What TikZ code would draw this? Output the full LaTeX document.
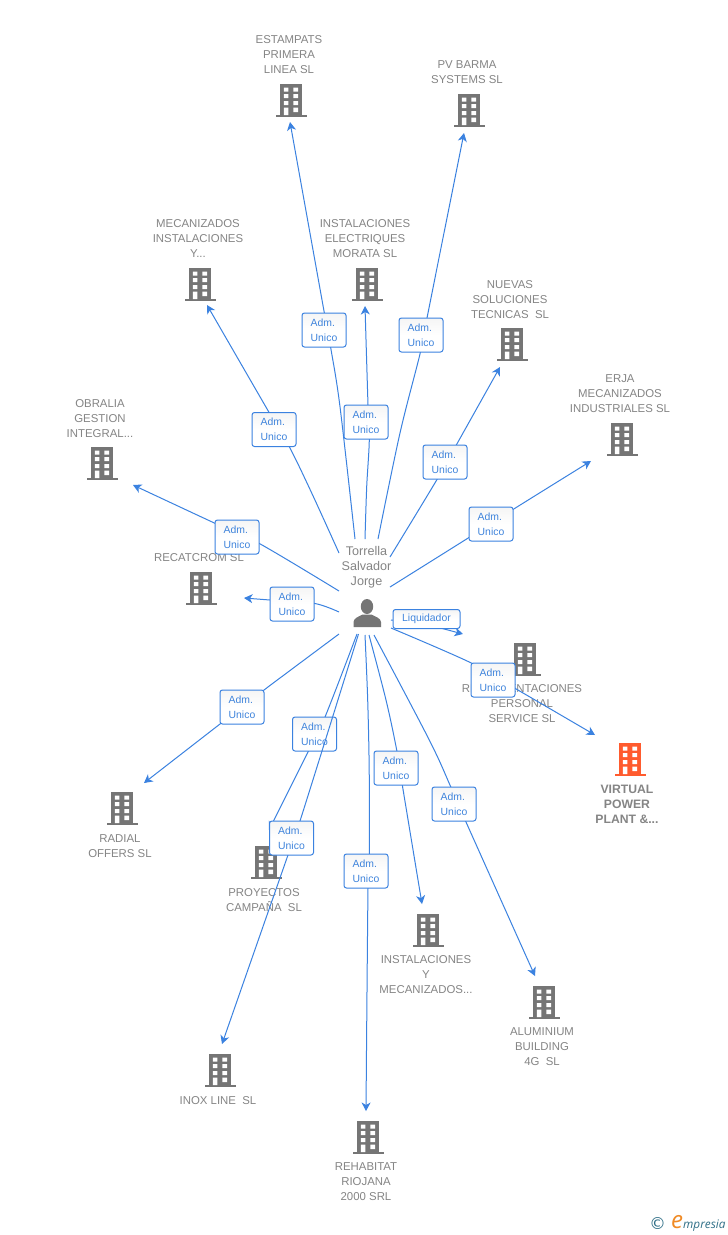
\documentclass[tikz,border=0pt]{standalone}
\usepackage{fontspec}
\setmainfont{Liberation Sans}
\newfontfamily\logofont{Open Sans}
\newfontfamily\symfont{DejaVu Sans}
\usetikzlibrary{arrows.meta,shadings}
\definecolor{wirec}{HTML}{3B82E0}
\definecolor{labc}{HTML}{3F84DC}
\definecolor{txtc}{HTML}{858585}
\definecolor{iconc}{HTML}{757575}
\definecolor{hotc}{HTML}{FF5B2E}
\definecolor{logoc}{HTML}{2F6F87}
\definecolor{logoo}{HTML}{F08A24}
\pgfdeclarelayer{front}
\pgfdeclarelayer{over}
\pgfsetlayers{main,front,over}
\tikzset{
  wire/.style={draw=wirec,line width=1pt,-{Stealth[length=8.5pt,width=9pt,inset=2.5pt]}},
  lab/.style={draw=wirec,line width=1pt,rounded corners=2.5pt,top color=black!4,bottom color=white,middle color=white,
    text=labc,font=\fontsize{10.4}{15}\selectfont,align=left,minimum width=44pt,minimum height=34pt,inner sep=0pt},
  co/.style={text=txtc,font=\fontsize{11.4}{15}\selectfont,align=center,inner sep=0pt},
  hot/.style={text=txtc,font=\bfseries\fontsize{12.2}{15}\selectfont,align=center,inner sep=0pt},
  pers/.style={text=txtc,font=\fontsize{12.6}{15}\selectfont,align=center,inner sep=0pt},
  box/.style={minimum width=31pt,minimum height=33pt,inner sep=0pt},
  bld/.pic={
    \fill[pic actions] (-11,-16.5) rectangle (11,15);
    \fill[pic actions] (-15.5,14.5) rectangle (15.5,17);
    \fill[white] (-7.2,-12.5) rectangle (-2.7,-8.5) (2.3,-12.5) rectangle (7,-8.5)
      (-7.2,-5.8) rectangle (-2.7,-1.8) (2.3,-5.8) rectangle (7,-1.8)
      (-7.2,1) rectangle (-2.7,5) (2.3,1) rectangle (7,5)
      (-7.2,7.5) rectangle (-2.7,15) (2.3,7.5) rectangle (7,12);
  }
}
\begin{document}
\begin{tikzpicture}[x=1pt,y=-1pt]
\useasboundingbox (0,0) rectangle (728,1235);
\fill[white] (0,0) rectangle (728,1235);

% companies
\node[box] (b1) at (291,100) {};  \pic[fill=iconc] at (b1) {bld};
\node[co] (n1) at (289,55) {ESTAMPATS\\PRIMERA\\LINEA SL};
\node[box] (b2) at (469,110) {};  \pic[fill=iconc] at (b2) {bld};
\node[co] (n2) at (467,72.5) {PV BARMA\\SYSTEMS SL};
\node[box] (b3) at (200,284) {};  \pic[fill=iconc] at (b3) {bld};
\node[co] (n3) at (198,239) {MECANIZADOS\\INSTALACIONES\\Y...};
\node[box] (b4) at (367,284) {};  \pic[fill=iconc] at (b4) {bld};
\node[co] (n4) at (365,239) {INSTALACIONES\\ELECTRIQUES\\MORATA SL};
\node[box] (b5) at (512,344) {};  \pic[fill=iconc] at (b5) {bld};
\node[co] (n5) at (510,300) {NUEVAS\\SOLUCIONES\\TECNICAS\ \ SL};
\node[box] (b6) at (622,439) {};  \pic[fill=iconc] at (b6) {bld};
\node[co] (n6) at (620,394) {ERJA\\MECANIZADOS\\INDUSTRIALES SL};
\node[box] (b7) at (102,463) {};  \pic[fill=iconc] at (b7) {bld};
\node[co] (n7) at (100,419) {OBRALIA\\GESTION\\INTEGRAL...};
\node[box] (b8) at (201,588) {};  \pic[fill=iconc] at (b8) {bld};
\node[co] (n8) at (199,558) {RECATCROM SL};
\node[box] (b9) at (525,659) {};  \pic[fill=iconc] at (b9) {bld};
\node[co] (n9) at (522,704) {REPRESENTACIONES\\PERSONAL\\SERVICE SL};
\node[box] (b10) at (630,759) {}; \pic[fill=hotc] at (b10) {bld};
\node[hot] (n10) at (627,804) {VIRTUAL\\POWER\\PLANT \&...};
\node[box] (b11) at (122,808) {}; \pic[fill=iconc] at (b11) {bld};
\node[co] (n11) at (120,846.5) {RADIAL\\OFFERS SL};
\node[box] (b12) at (266,862) {}; \pic[fill=iconc] at (b12) {bld};
\node[co] (n12) at (264,900.5) {PROYECTOS\\CAMPAÑA\ \ SL};
\node[box] (b13) at (428,930) {}; \pic[fill=iconc] at (b13) {bld};
\node[co] (n13) at (426,975) {INSTALACIONES\\Y\\MECANIZADOS...};
\node[box] (b14) at (544,1002) {}; \pic[fill=iconc] at (b14) {bld};
\node[co] (n14) at (542,1047) {ALUMINIUM\\BUILDING\\4G\ \ SL};
\node[box] (b15) at (220,1070) {}; \pic[fill=iconc] at (b15) {bld};
\node[co] (n15) at (218,1101) {INOX LINE\ \ SL};
\node[box] (b16) at (368,1137) {}; \pic[fill=iconc] at (b16) {bld};
\node[co] (n16) at (366,1182) {REHABITAT\\RIOJANA\\2000 SRL};

% person
\node[pers] (pname) at (366.5,567) {Torrella\\Salvador\\Jorge};
\node[box,minimum width=28pt,minimum height=30pt] (p) at (367,613) {};
\fill[iconc] (367,606.5) ellipse (6.2 and 7.5);
\fill[iconc] (353.5,627) -- (353.5,622) .. controls (354,618) and (358,617) .. (362.5,614.5)
  -- (371.5,614.5) .. controls (376,617) and (380.5,618) .. (381,622) -- (381,627) -- cycle;

% relation labels
\begin{pgfonlayer}{front}
\node[lab] (l1) at (324,330) {Adm.\\Unico};
\node[lab] (l2) at (421,335) {Adm.\\Unico};
\node[lab] (l3) at (274,429.5) {Adm.\\Unico};
\node[lab] (l4) at (366,422) {Adm.\\Unico};
\node[lab] (l5) at (445,462) {Adm.\\Unico};
\node[lab] (l6) at (491,524) {Adm.\\Unico};
\node[lab] (l7) at (237,537) {Adm.\\Unico};
\node[lab] (l8) at (292,604) {Adm.\\Unico};
\node[lab,minimum width=67pt,minimum height=19pt] (l9) at (426.5,619) {Liquidador};
\node[lab] (l10) at (493,680) {Adm.\\Unico};
\node[lab] (l11) at (242,707) {Adm.\\Unico};
\node[lab] (l12) at (314.5,734) {Adm.\\Unico};
\node[lab] (l14) at (396,768) {Adm.\\Unico};
\node[lab] (l15) at (454,804) {Adm.\\Unico};
\node[lab] (l16) at (366,871) {Adm.\\Unico};
\end{pgfonlayer}
\begin{pgfonlayer}{over}
\node[lab] (l13) at (291.5,838) {Adm.\\Unico};
\end{pgfonlayer}

% free ends of the connectors, bends, and where they leave their labels
\coordinate (s1) at (355,539);  \coordinate (m1) at (340,406.7); \coordinate (a1) at (330.7,347.7); \coordinate (b1) at (324.3,312.7); \coordinate (t1) at (290,122);
\coordinate (s2) at (378,539);  \coordinate (m2) at (400,433);   \coordinate (a2) at (420.3,352.7); \coordinate (b2) at (427,318);     \coordinate (t2) at (464,133);
\coordinate (s3) at (339,553);  \coordinate (m3) at (311.7,493); \coordinate (a3) at (289.3,446.7); \coordinate (b3) at (269,412.3);   \coordinate (t3) at (207,305);
\coordinate (s4) at (365,539);  \coordinate (m4) at (366.7,486.7); \coordinate (a4) at (369.3,440); \coordinate (b4) at (368,405);     \coordinate (t4) at (365,306);
\coordinate (s5) at (390,557);  \coordinate (a5) at (437.3,479);   \coordinate (b5) at (456.7,444.3); \coordinate (t5) at (500,367);
\coordinate (s6) at (390,587);  \coordinate (a6) at (469.3,537.3); \coordinate (b6) at (513.3,509.3); \coordinate (t6) at (591,461);
\coordinate (s7) at (339,591);  \coordinate (a7) at (259,543.3);   \coordinate (b7) at (215,523.3);   \coordinate (t7) at (133,485);
\coordinate (s8) at (339,612);  \coordinate (a8) at (314,603.3);   \coordinate (b8) at (270,600);     \coordinate (t8) at (244,598);
\coordinate (s9) at (391,620);  \coordinate (a9) at (420,622);     \coordinate (b9) at (441.7,628.3); \coordinate (t9) at (463,634);
\coordinate (s10) at (391,628); \coordinate (a10) at (470.7,662.7); \coordinate (b10) at (515,688.3); \coordinate (t10) at (595,735);
\coordinate (s11) at (339,634); \coordinate (a11) at (264,690);    \coordinate (b11) at (220,724);    \coordinate (t11) at (144,783);
\coordinate (s12) at (357,634); \coordinate (a12) at (325,717);    \coordinate (b12) at (308,752);    \coordinate (t12) at (269,830);
\coordinate (s13) at (358.5,634); \coordinate (a13) at (300,821);  \coordinate (b13) at (288,855);    \coordinate (t13) at (222,1044);
\coordinate (s14) at (369,635); \coordinate (m14) at (386,700);    \coordinate (a14) at (396.7,750);  \coordinate (b14) at (402.3,785);  \coordinate (t14) at (422,904);
\coordinate (s15) at (374,635); \coordinate (m15) at (429.3,740);  \coordinate (a15) at (450.7,786.7); \coordinate (b15) at (465.7,821.3); \coordinate (t15) at (535,976);
\coordinate (s16) at (365,635); \coordinate (m16) at (367.7,700);  \coordinate (n16b) at (369.2,770); \coordinate (a16) at (369.4,854);    \coordinate (b16) at (368,888);    \coordinate (t16) at (366,1111);

% connectors
\draw[wire] plot[smooth,tension=.55] coordinates {(s1) (m1) (a1) (b1) (t1)};
\draw[wire] plot[smooth,tension=.55] coordinates {(s2) (m2) (a2) (b2) (t2)};
\draw[wire] plot[smooth,tension=.55] coordinates {(s3) (m3) (a3) (b3) (t3)};
\draw[wire] plot[smooth,tension=.55] coordinates {(s4) (m4) (a4) (b4) (t4)};
\draw[wire] plot[smooth,tension=.55] coordinates {(s5) (a5) (b5) (t5)};
\draw[wire] plot[smooth,tension=.55] coordinates {(s6) (a6) (b6) (t6)};
\draw[wire] plot[smooth,tension=.55] coordinates {(s7) (a7) (b7) (t7)};
\draw[wire] plot[smooth,tension=.55] coordinates {(s8) (a8) (b8) (t8)};
\draw[wire] plot[smooth,tension=.55] coordinates {(s9) (a9) (b9) (t9)};
\draw[wire] plot[smooth,tension=.55] coordinates {(s10) (a10) (b10) (t10)};
\draw[wire] plot[smooth,tension=.55] coordinates {(s11) (a11) (b11) (t11)};
\draw[wire] plot[smooth,tension=.55] coordinates {(s12) (a12) (b12) (t12)};
\draw[wire] plot[smooth,tension=.55] coordinates {(s14) (m14) (a14) (b14) (t14)};
\draw[wire] plot[smooth,tension=.55] coordinates {(s15) (m15) (a15) (b15) (t15)};
\draw[wire] plot[smooth,tension=.55] coordinates {(s16) (m16) (n16b) (a16) (b16) (t16)};
\begin{pgfonlayer}{front}
\draw[wire] plot[smooth,tension=.55] coordinates {(s13) (a13) (b13) (t13)};
\end{pgfonlayer}

% logo
\node[inner sep=0pt,text=logoc,font=\symfont\fontsize{16.5}{16}\selectfont] (lg1) at (657.5,1224) {©};
\node[inner sep=0pt,text=logoo,font=\logofont\itshape\fontsize{24}{24}\selectfont] (lg2) at (677,1222) {e};
\node[inner sep=0pt,anchor=base west,text=logoc,font=\logofont\itshape\fontsize{11.8}{12}\selectfont] (lg3) at (683,1228) {mpresia};
\end{tikzpicture}
\end{document}
